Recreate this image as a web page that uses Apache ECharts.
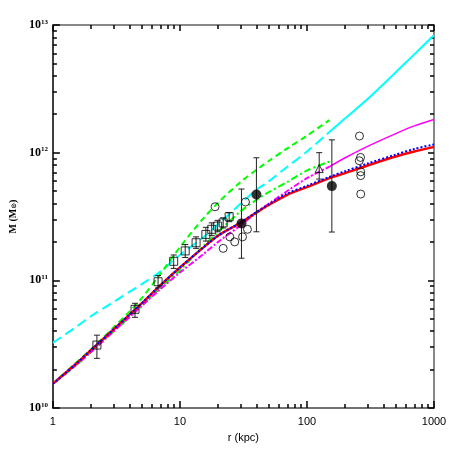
<!DOCTYPE html>
<html>
<head>
<meta charset="utf-8">
<script src="https://cdn.jsdelivr.net/npm/echarts@6/dist/echarts.min.js"></script>
<style>
  html, body { margin: 0; padding: 0; background: #fff; }
  #chart { width: 458px; height: 458px; }
</style>
</head>
<body>
<div id="chart"></div>
<script>
// radius grid for the model curves (kpc)
var rGrid = [1, 1.5, 2, 3, 4, 5, 7, 10, 15, 20, 30, 40, 50, 70, 100, 150, 200, 300, 500, 700, 1000];
var rShort = [1, 1.5, 2, 3, 4, 5, 7, 10, 15, 20, 30, 40, 50, 70, 100, 150];

// model curves, M (Msun)
var redM = [1.55e10, 2.19e10, 2.85e10, 4.12e10, 5.37e10, 6.61e10, 9.12e10, 1.26e11, 1.78e11, 2.24e11, 2.82e11, 3.39e11, 3.89e11, 4.68e11, 5.37e11, 6.31e11, 6.92e11, 7.94e11, 9.33e11, 1.02e12, 1.11e12];
var blueM = [1.55e10, 2.19e10, 2.85e10, 4.12e10, 5.37e10, 6.61e10, 9.12e10, 1.26e11, 1.78e11, 2.24e11, 2.84e11, 3.42e11, 3.94e11, 4.79e11, 5.50e11, 6.46e11, 7.16e11, 8.22e11, 9.66e11, 1.07e12, 1.16e12];
var magentaM = [1.55e10, 2.14e10, 2.75e10, 3.98e10, 5.13e10, 6.31e10, 8.51e10, 1.15e11, 1.58e11, 2.00e11, 2.69e11, 3.39e11, 3.98e11, 5.01e11, 6.31e11, 7.76e11, 9.12e11, 1.12e12, 1.41e12, 1.62e12, 1.82e12];
var cyanM = [3.24e10, 4.27e10, 5.25e10, 6.76e10, 8.13e10, 9.33e10, 1.17e11, 1.58e11, 2.14e11, 2.75e11, 3.98e11, 5.13e11, 5.96e11, 7.76e11, 1.02e12, 1.45e12, 1.86e12, 2.63e12, 4.27e12, 5.89e12, 8.32e12];
var greenDashM = [1.55e10, 2.24e10, 2.88e10, 4.27e10, 5.69e10, 7.24e10, 1.12e11, 1.82e11, 2.99e11, 4.07e11, 5.89e11, 7.33e11, 8.61e11, 1.08e12, 1.36e12, 1.80e12];
var greenDotDashM = [1.55e10, 2.14e10, 2.75e10, 3.98e10, 5.13e10, 6.31e10, 8.71e10, 1.20e11, 1.82e11, 2.40e11, 3.47e11, 4.27e11, 4.90e11, 5.89e11, 7.24e11, 8.51e11];

// open squares with error bars
var sqR = [2.22, 4.43, 6.73, 8.93, 11.0, 13.4, 16.0, 17.8, 19.8, 21.9, 24.4];
var sqM = [3.11e10, 5.93e10, 9.75e10, 1.41e11, 1.70e11, 1.97e11, 2.29e11, 2.51e11, 2.66e11, 2.82e11, 3.15e11];
var sqLo = [2.45e10, 5.13e10, 8.71e10, 1.24e11, 1.51e11, 1.78e11, 2.03e11, 2.24e11, 2.40e11, 2.57e11, 2.88e11];
var sqHi = [3.72e10, 6.61e10, 1.09e11, 1.58e11, 1.91e11, 2.19e11, 2.60e11, 2.82e11, 2.95e11, 3.09e11, 3.39e11];

// open circles
var ocR = [18.9, 21.9, 24.7, 27.0, 31.1, 34.0, 32.8, 259, 264, 258, 265, 265, 265];
var ocM = [3.77e11, 1.78e11, 2.19e11, 2.00e11, 2.19e11, 2.51e11, 4.11e11, 1.35e12, 9.18e11, 8.65e11, 7.08e11, 6.61e11, 4.74e11];

// filled circles with error bars
var fcR = [30.5, 40.0, 157];
var fcM = [2.79e11, 4.71e11, 5.47e11];
var fcLo = [1.49e11, 2.40e11, 2.39e11];
var fcHi = [5.19e11, 9.12e11, 1.26e12];

// triangle
var trR = [124.8];
var trM = [7.5e11];
var trLo = [6.21e11];
var trHi = [1.0e12];

// tick labels (decade exponents)
var xDecades = [0, 1, 2, 3];
var yDecades = [10, 11, 12, 13];
var minorSteps = [2, 3, 4, 5, 6, 7, 8, 9];

function minorTicks(decades) {
  var out = [];
  for (var i = 0; i < decades.length - 1; i++) {
    minorSteps.forEach(function (m) { out.push(decades[i] + Math.log10(m)); });
  }
  return out;
}
var xMinor = minorTicks(xDecades);
var yMinor = minorTicks(yDecades);

function zip(xs, ys) { return xs.map(function (x, i) { return [x, ys[i]]; }); }
function zip3(xs, a, b) { return xs.map(function (x, i) { return [x, a[i], b[i]]; }); }
function upTo(xs, ys, lim) { return zip(xs, ys).filter(function (p) { return p[0] <= lim; }); }
function from(xs, ys, lim) { return zip(xs, ys).filter(function (p) { return p[0] >= lim; }); }

var chart = echarts.init(document.getElementById('chart'));

function errBar(params, api) {
  var x = api.value(0);
  var p1 = api.coord([x, api.value(1)]);
  var p2 = api.coord([x, api.value(2)]);
  var w = 3;
  var st = { stroke: '#222', lineWidth: 1 };
  return {
    type: 'group',
    children: [
      { type: 'line', shape: { x1: p1[0], y1: p1[1], x2: p2[0], y2: p2[1] }, style: st },
      { type: 'line', shape: { x1: p1[0] - w, y1: p1[1], x2: p1[0] + w, y2: p1[1] }, style: st },
      { type: 'line', shape: { x1: p2[0] - w, y1: p2[1], x2: p2[0] + w, y2: p2[1] }, style: st }
    ]
  };
}

// frame axes: linear in log10 space, only for line / ticks / labels
function frameAxis(min, max, pos, extra) {
  var o = {
    type: 'value', min: min, max: max, position: pos, gridIndex: 0,
    splitLine: { show: false },
    axisLabel: { show: false },
    axisTick: { show: false },
    axisLine: { show: false, onZero: false }
  };
  for (var k in extra) o[k] = extra[k];
  return o;
}
function ticks(vals, len) {
  return { show: true, inside: true, length: len, customValues: vals, lineStyle: { color: '#000', width: 1.5 } };
}
function line(color, width) {
  return { show: true, onZero: false, lineStyle: { color: color, width: width } };
}

// data axes (log), index 4 on each side
var XD = 4, YD = 4;
var hiddenLog = {
  type: 'log', logBase: 10, gridIndex: 0,
  axisLine: { show: false, onZero: false }, axisTick: { show: false }, axisLabel: { show: false }, splitLine: { show: false }
};

function dataSeries(o) { o.xAxisIndex = XD; o.yAxisIndex = YD; return o; }

chart.setOption({
  animation: false,
  backgroundColor: '#fff',
  grid: { left: 50, right: 24, top: 25, bottom: 50 },
  xAxis: [
    frameAxis(0, 3, 'bottom', {
      name: 'r (kpc)', nameLocation: 'middle', nameGap: 24,
      nameTextStyle: { fontFamily: 'Liberation Sans', fontSize: 11, color: '#000' },
      axisLine: line('#444', 1.5),
      axisTick: ticks(xDecades, 7),
      axisLabel: {
        show: true, margin: 8, customValues: xDecades,
        fontFamily: 'Liberation Sans', fontSize: 11, color: '#000',
        formatter: function (v) { return String(Math.round(Math.pow(10, v))); }
      }
    }),
    frameAxis(0, 3, 'bottom', { axisTick: ticks(xMinor, 4) }),
    frameAxis(0, 3, 'top', { axisLine: line('#888', 2), axisTick: ticks(xDecades, 6) }),
    frameAxis(0, 3, 'top', { axisTick: ticks(xMinor, 4) }),
    Object.assign({ min: 1, max: 1000, position: 'bottom' }, hiddenLog)
  ],
  yAxis: [
    frameAxis(10, 13, 'left', {
      name: 'M (M{s|⊙})', nameLocation: 'middle', nameGap: 30, nameRotate: 90,
      nameTextStyle: {
        fontFamily: 'Liberation Serif', fontWeight: 'bold', fontSize: 10, color: '#000',
        rich: { s: { fontFamily: 'DejaVu Sans', fontSize: 7, color: '#000', verticalAlign: 'bottom' } }
      },
      axisLine: line('#000', 1.5),
      axisTick: ticks(yDecades, 7),
      axisLabel: {
        show: true, margin: 5, customValues: yDecades,
        formatter: function (v) { return '{a|10}{b|' + Math.round(v) + '}'; },
        rich: {
          a: { fontFamily: 'Liberation Serif', fontWeight: 'bold', fontSize: 12, color: '#000' },
          b: { fontFamily: 'Liberation Serif', fontWeight: 'bold', fontSize: 7, color: '#000', verticalAlign: 'top', padding: [0, 0, 6, 0] }
        }
      }
    }),
    frameAxis(10, 13, 'left', { axisTick: ticks(yMinor, 4) }),
    frameAxis(10, 13, 'right', { axisLine: line('#888', 2), axisTick: ticks(yDecades, 6) }),
    frameAxis(10, 13, 'right', { axisTick: ticks(yMinor, 4) }),
    Object.assign({ min: 1e10, max: 1e13, position: 'left' }, hiddenLog)
  ],
  series: [
    dataSeries({ type: 'line', data: upTo(rGrid, cyanM, 150), showSymbol: false, smooth: 0.3,
      lineStyle: { color: '#00ffff', width: 2, type: [10, 5] } }),
    dataSeries({ type: 'line', data: from(rGrid, cyanM, 150), showSymbol: false, smooth: 0.3,
      lineStyle: { color: '#00ffff', width: 2 } }),
    dataSeries({ type: 'line', data: zip(rShort, greenDashM), showSymbol: false, smooth: 0.3,
      lineStyle: { color: '#00ff00', width: 2, type: [6, 4] } }),
    dataSeries({ type: 'line', data: zip(rShort, greenDotDashM), showSymbol: false, smooth: 0.3,
      lineStyle: { color: '#00ff00', width: 2, type: [7, 3, 2, 3] } }),
    dataSeries({ type: 'line', data: upTo(rGrid, magentaM, 150), showSymbol: false, smooth: 0.3,
      lineStyle: { color: '#ff00ff', width: 2, type: [6, 2, 2, 2] } }),
    dataSeries({ type: 'line', data: from(rGrid, magentaM, 150), showSymbol: false, smooth: 0.3,
      lineStyle: { color: '#ff00ff', width: 1.5 } }),
    dataSeries({ type: 'line', data: zip(rGrid, redM), showSymbol: false, smooth: 0.3,
      lineStyle: { color: '#ff0000', width: 2.5 } }),
    dataSeries({ type: 'line', data: zip(rGrid, blueM), showSymbol: false, smooth: 0.3,
      lineStyle: { color: '#0000ff', width: 2, type: [2, 2] } }),
    dataSeries({ type: 'custom', renderItem: errBar, data: zip3(sqR, sqLo, sqHi), z: 5 }),
    dataSeries({ type: 'custom', renderItem: errBar, data: zip3(fcR, fcLo, fcHi), z: 5 }),
    dataSeries({ type: 'custom', renderItem: errBar, data: zip3(trR, trLo, trHi), z: 5 }),
    dataSeries({ type: 'scatter', data: zip(sqR, sqM), symbol: 'rect', symbolSize: 8, z: 6,
      itemStyle: { color: 'rgba(0,0,0,0)', borderColor: '#000', borderWidth: 1 } }),
    dataSeries({ type: 'scatter', data: zip(ocR, ocM), symbol: 'circle', symbolSize: 8, z: 6,
      itemStyle: { color: 'rgba(0,0,0,0)', borderColor: '#000', borderWidth: 1 } }),
    dataSeries({ type: 'scatter', data: zip(fcR, fcM), symbol: 'circle', symbolSize: 10, z: 6,
      itemStyle: { color: '#000' } }),
    dataSeries({ type: 'scatter', data: zip(trR, trM), symbol: 'triangle', symbolSize: 8, z: 6,
      itemStyle: { color: 'rgba(0,0,0,0)', borderColor: '#000', borderWidth: 1 } })
  ]
});
</script>
</body>
</html>
